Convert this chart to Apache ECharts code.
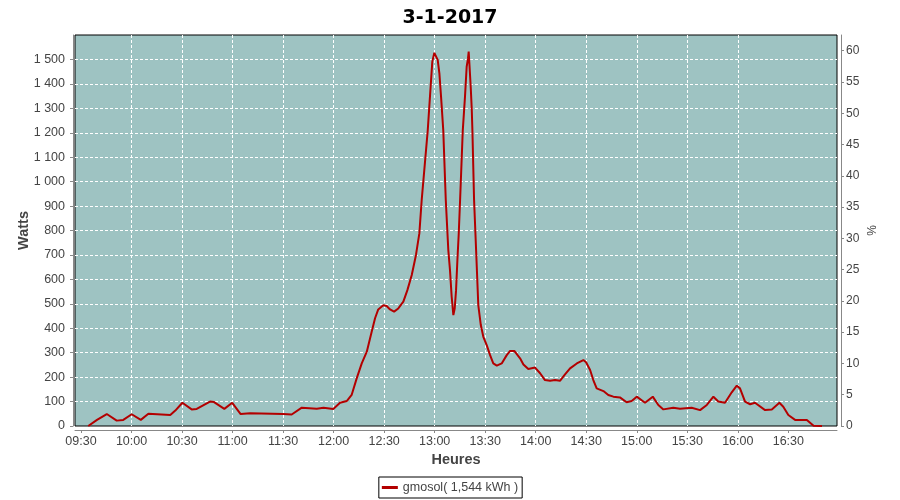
<!DOCTYPE html>
<html>
<head>
<meta charset="utf-8">
<script src="https://cdn.jsdelivr.net/npm/echarts@6/dist/echarts.min.js"></script>
<style>html,body{margin:0;padding:0;background:#fff}#c{width:900px;height:500px}</style>
</head>
<body>
<div id="c"></div>
<script>
const title = '3-1-2017';
const seriesName = 'gmosol( 1,544 kWh )';
const xTickLabels = ['09:30','10:00','10:30','11:00','11:30','12:00','12:30','13:00','13:30','14:00','14:30','15:00','15:30','16:00','16:30'];
const times = ['09:34:18','09:39:30','09:45:18','09:51:12','09:55:06','10:00:06','10:05:30','10:10:00','10:23:00','10:26:00',
'10:30:12','10:35:42','10:38:42','10:46:36','10:49:00','10:55:06','10:59:48','11:04:48','11:10:24','11:30:06',
'11:35:06','11:41:06','11:50:00','11:54:00','11:59:48','12:03:48','12:07:48','12:10:42','12:13:42','12:16:42',
'12:19:42','12:22:36','12:24:36','12:26:30','12:29:30','12:31:30','12:33:30','12:35:54','12:38:24','12:41:24',
'12:43:48','12:46:24','12:48:54','12:50:54','12:52:18','12:55:54','12:57:12','12:58:36','12:59:48','13:00:48',
'13:01:48','13:02:48','13:03:48','13:05:06','13:06:36','13:08:06','13:09:06','13:10:06','13:11:06','13:11:54',
'13:12:42','13:13:30','13:14:18','13:15:06','13:16:42','13:18:00','13:19:00','13:19:48','13:20:12','13:20:36',
'13:21:24','13:22:00','13:22:24','13:23:24','13:24:36','13:25:54','13:27:24','13:28:54','13:30:54','13:32:54',
'13:34:48','13:36:54','13:39:48','13:42:48','13:44:48','13:47:18','13:50:42','13:52:42','13:55:36','13:59:36',
'14:02:36','14:05:30','14:08:30','14:11:30','14:14:24','14:17:24','14:20:24','14:24:24','14:28:18','14:29:54',
'14:32:18','14:34:12','14:36:12','14:40:12','14:43:06','14:46:06','14:50:00','14:54:00','14:57:00','15:00:00',
'15:04:54','15:09:30','15:12:48','15:15:48','15:21:42','15:25:42','15:32:36','15:37:36','15:41:36','15:45:30',
'15:48:24','15:52:24','15:56:24','15:59:24','16:01:18','16:04:18','16:07:18','16:10:12','16:16:12','16:20:12',
'16:24:42','16:27:00','16:30:00','16:34:00','16:41:00','16:45:00','16:50:00'];
const watts = [0,25,49,22,25,48,25,50,45,63,
95,68,70,100,98,70,95,49,52,49,
47,75,71,75,70,95,102,127,195,256,
304,386,441,477,494,491,477,468,481,509,
556,618,700,788,925,1211,1347,1491,1527,1525,
1498,1443,1347,1211,925,720,638,529,454,481,
556,679,788,925,1211,1347,1470,1504,1532,1484,
1388,1300,1211,925,720,495,413,365,331,290,
256,247,256,290,307,307,277,252,233,239,
216,188,185,188,185,211,236,256,270,261,
229,188,154,143,127,120,117,97,102,120,
95,120,86,68,75,71,75,65,86,120,
100,95,138,165,154,100,89,95,65,68,
95,79,45,25,25,1,0];

function toMin(s){const p=s.split(':').map(Number);return p[0]*60+p[1]+(p[2]||0)/60;}
function fmtMin(v){const h=Math.floor(v/60),m=Math.round(v-h*60);return String(h).padStart(2,'0')+':'+String(m).padStart(2,'0');}
const tickVals = xTickLabels.map(toMin);
const data = times.map((t,i)=>[toMin(t), watts[i]]);

const txt = '#444444';
const axisGray = '#888888';
const font = 'Liberation Sans';
const chart = echarts.init(document.getElementById('c'));
chart.setOption({
  animation:false,
  backgroundColor:'#ffffff',
  title:{text:title,left:'center',top:4,textStyle:{fontFamily:'DejaVu Sans',fontWeight:'bold',fontSize:19,color:'#000'}},
  grid:{left:75,right:63,top:35,bottom:74,show:true,backgroundColor:'#9ec3c2',borderColor:'#000',borderWidth:1},
  legend:{data:[seriesName],left:'center',top:477,icon:'rect',itemWidth:16,itemHeight:3,itemGap:4,
    padding:[4,4,4,3],borderColor:'#000',borderWidth:1,textStyle:{fontFamily:font,fontSize:12.5,color:txt}},
  xAxis:{type:'value',min:toMin('09:26:26'),max:toMin('16:58:54'),offset:4,
    name:'Heures',nameLocation:'middle',nameGap:22,nameMoveOverlap:false,nameTextStyle:{fontFamily:font,fontWeight:'bold',fontSize:14.5,color:txt},
    axisLine:{show:true,onZero:false,lineStyle:{color:axisGray}},
    axisTick:{show:true,length:3,customValues:tickVals,lineStyle:{color:axisGray}},
    axisLabel:{customValues:tickVals,margin:5,fontFamily:font,fontSize:12.5,color:txt,formatter:fmtMin},
    splitLine:{show:true,showMinLine:false,showMaxLine:false,lineStyle:{color:'#ffffff',type:[3,2],width:1}}},
  yAxis:[{type:'value',min:0,max:1600,interval:100,offset:2,position:'left',
    name:'Watts',nameLocation:'middle',nameGap:42,nameMoveOverlap:false,nameTextStyle:{fontFamily:font,fontWeight:'bold',fontSize:14.5,color:txt},
    axisLine:{show:true,lineStyle:{color:axisGray}},
    axisTick:{show:true,length:3,lineStyle:{color:axisGray}},
    axisLabel:{showMaxLabel:false,margin:8,fontFamily:font,fontSize:12.5,color:txt,
      formatter:v=>v>=1000?Math.floor(v/1000)+' '+String(v%1000).padStart(3,'0'):String(v)},
    splitLine:{show:true,showMinLine:false,showMaxLine:false,lineStyle:{color:'#ffffff',type:[3,2],width:1}}},
   {type:'value',min:0,max:62.5,interval:5,offset:4,position:'right',
    name:'%',nameLocation:'middle',nameGap:26,nameMoveOverlap:false,nameTextStyle:{fontFamily:font,fontSize:12,color:txt},
    axisLine:{show:true,lineStyle:{color:axisGray}},
    axisTick:{show:true,length:3,lineStyle:{color:axisGray}},
    axisLabel:{showMaxLabel:false,margin:5,fontFamily:font,fontSize:12,color:txt},
    splitLine:{show:false}}],
  series:[{name:seriesName,type:'line',data:data,yAxisIndex:0,symbol:'none',
    lineStyle:{color:'#b30000',width:2},itemStyle:{color:'#b30000'}}]
});
</script>
</body>
</html>
